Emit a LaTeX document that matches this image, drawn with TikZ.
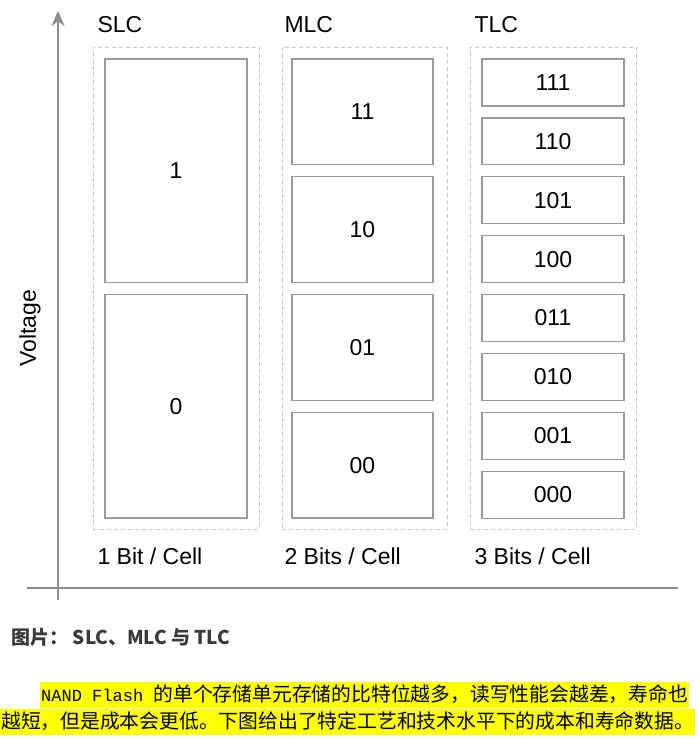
\documentclass[tikz,border=0pt]{standalone}
\usepackage{fontspec}
\setmainfont{Liberation Sans}
\newfontfamily\cjkfont{Noto Sans CJK SC}
\newfontfamily\codefont{Liberation Mono}
\usetikzlibrary{positioning,arrows.meta}

\definecolor{axisgray}{HTML}{8C8C8C}
\definecolor{cellgray}{HTML}{9A9A9A}
\definecolor{dashgray}{HTML}{C8C8C8}
\definecolor{captiongray}{HTML}{3A3A3A}
\definecolor{markyellow}{HTML}{FFFF00}

\begin{document}
\begin{tikzpicture}[x=1pt, y=-1pt, >={Stealth[length=15pt,width=13pt]},
    every cell/.style={draw=cellgray, line width=1.3pt, inner sep=0pt,
        font=\fontsize{23}{27}\selectfont},
    every group/.style={draw=dashgray, line width=0.8pt, dash pattern=on 4pt off 3pt,
        minimum height=482pt, inner sep=0pt},
    every title/.style={anchor=base west, font=\fontsize{23}{27}\selectfont},
    every axis/.style={draw=axisgray, line width=2.5pt},
    every line/.style={anchor=west, fill=markyellow, inner xsep=1pt, inner ysep=2pt,
        text height=17pt, text depth=5pt, font=\cjkfont\fontsize{19.8}{24}\selectfont}]

    \useasboundingbox (0,0) rectangle (700,745);

    % dashed groups
    \foreach \m/\x/\w in {slc/176/166,mlc/364.5/165,tlc/553/166}
        \node [every group/.try, minimum width=\w pt] (group-\m) at (\x,288) {};

    % SLC cells
    \foreach \l [count=\y] in {1,0}
        \node [every cell/.try, minimum width=142pt, minimum height=223.5pt]
            (slc-\l) at (176,{170.75+(\y-1)*235.5}) {\l};

    % MLC cells
    \foreach \l [count=\y] in {11,10,01,00}
        \node [every cell/.try, minimum width=141pt, minimum height=105.75pt]
            (mlc-\l) at (362.5,{111.9+(\y-1)*117.75}) {\l};

    % TLC cells
    \foreach \l [count=\y] in {111,110,101,100,011,010,001,000}
        \node [every cell/.try, minimum width=142pt, minimum height=46.9pt]
            (tlc-\l) at (553,{82.45+(\y-1)*58.9}) {\l};

    % headings
    \foreach \l/\x [count=\i] in {SLC/94,MLC/281,TLC/471}
        \node [every title/.try] (title-\i) at (\x,32) {\l};

    % bits per cell
    \foreach \l/\x [count=\i] in {{1 Bit / Cell}/94,{2 Bits / Cell}/281,{3 Bits / Cell}/471}
        \node [every title/.try] (bits-\i) at (\x,564) {\l};

    % axes
    \coordinate (yaxis-start) at (58,600);
    \coordinate (yaxis-end) at (58,11);
    \coordinate (xaxis-start) at (27,588);
    \coordinate (xaxis-end) at (678,588);
    \draw [every axis/.try, ->] (yaxis-start) -- (yaxis-end);
    \draw [every axis/.try] (xaxis-start) -- (xaxis-end);
    \node [rotate=90, font=\fontsize{23}{27}\selectfont] (voltage) at (30,328) {Voltage};

    % caption
    \node [anchor=west, text=captiongray, font=\cjkfont\bfseries\fontsize{19}{22}\selectfont]
        (caption) at (8,637) {图片： SLC、MLC 与 TLC};

    % paragraph
    \node [every line/.try] (line-1) at (40,695)
        {{\codefont\fontsize{17}{20}\selectfont NAND Flash }的单个存储单元存储的比特位越多，读写性能会越差，寿命也};
    \node [every line/.try] (line-2) at (0,722)
        {越短，但是成本会更低。下图给出了特定工艺和技术水平下的成本和寿命数据。};

\end{tikzpicture}
\end{document}
